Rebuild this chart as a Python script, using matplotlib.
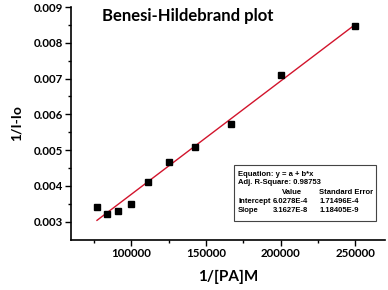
import numpy as np
import matplotlib
matplotlib.use('Agg')
import matplotlib.pyplot as plt
from matplotlib.patches import Rectangle

# 1/[PA] (M^-1) and 1/(I-Io)
inv_conc = [76923, 83333, 90909, 100000, 111111, 125000, 142857, 166667, 200000, 250000]
inv_int = [0.00341, 0.00320, 0.00329, 0.00348, 0.00412, 0.00466, 0.00510, 0.00574, 0.00711, 0.00848]

intercept = 6.0278e-4
slope = 3.1627e-8
fit_rows = [('Intercept', '6.0278E-4', '1.71496E-4'),
            ('Slope', '3.1627E-8', '1.18405E-9')]

W, H = 388, 290
fig = plt.figure(figsize=(W / 100, H / 100), dpi=100)
ax = fig.add_axes([71 / W, 1 - 239.5 / H, (385 - 71) / W, (239.5 - 7) / H])

xs = np.array([min(inv_conc), max(inv_conc)])
ax.plot(xs, intercept + slope * xs, color='#d2142c', lw=1.0, zorder=2)
ax.plot(inv_conc, inv_int, 's', color='black', ms=4.4, zorder=3)

ax.set_xlim(59500, 270000)
ax.set_ylim(0.0025, 0.009)
ax.set_xticks([100000, 150000, 200000, 250000])
ax.set_xticks([75000, 125000, 175000, 225000], minor=True)
ax.set_yticks([0.003, 0.004, 0.005, 0.006, 0.007, 0.008, 0.009])
ax.set_yticks(np.arange(0.0035, 0.009, 0.001), minor=True)
ax.set_yticklabels(['0.003', '0.004', '0.005', '0.006', '0.007', '0.008', '0.009'])
ax.set_xticklabels(['100000', '150000', '200000', '250000'])

for s in ['top', 'right']:
    ax.spines[s].set_visible(False)
for s in ['left', 'bottom']:
    ax.spines[s].set_linewidth(1.2)
ax.tick_params(which='major', direction='out', length=4, width=1, pad=2)
ax.tick_params(which='minor', direction='out', length=2.5, width=1)
for lab in ax.get_xticklabels() + ax.get_yticklabels():
    lab.set_fontfamily('Lato')
    lab.set_fontweight('bold')
    lab.set_fontsize(8.3)

ax.set_xlabel('1/[PA]M', fontfamily='Lato', fontweight='bold', fontsize=11, labelpad=8)
ax.set_ylabel('1/I-Io', fontfamily='Lato', fontweight='bold', fontsize=10, labelpad=8)

fig.text(188 / W, 1 - 16 / H, 'Benesi-Hildebrand plot', fontfamily='Lato', fontweight='bold',
         fontsize=12, ha='center', va='center')

# fit result box
def fx(px):
    return px / W

def fy(py):
    return 1 - py / H

fig.patches.append(Rectangle((fx(234), fy(221)), (376 - 234) / W, (221 - 165) / H,
                             transform=fig.transFigure, fill=False, ec='#444444', lw=0.8))
kw = dict(fontfamily='Liberation Sans', fontweight='bold', fontsize=5.5, va='center')
fig.text(fx(238), fy(174.5), 'Equation: y = a + b*x', **kw)
fig.text(fx(238), fy(183), 'Adj. R-Square: 0.98753', **kw)
fig.text(fx(282), fy(192.2), 'Value', **kw)
fig.text(fx(319), fy(192.2), 'Standard Error', **kw)
for i, (name, val, err) in enumerate(fit_rows):
    y = fy(201.4 + 9.5 * i)
    fig.text(fx(238), y, name, **kw)
    fig.text(fx(273), y, val, **kw)
    fig.text(fx(320), y, err, **kw)

fig.savefig('out.png', dpi=100)
